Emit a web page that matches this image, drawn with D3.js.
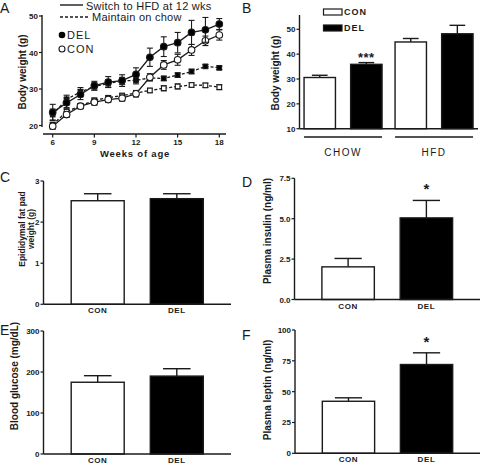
<!DOCTYPE html>
<html><head><meta charset="utf-8">
<script src="https://cdn.jsdelivr.net/npm/d3@7"></script>
<style>
html,body{margin:0;padding:0;background:#fff;}
svg{display:block;font-family:"Liberation Sans",Arial,sans-serif;}
</style></head>
<body>
<svg id="c" width="480" height="464"></svg>
<script>
// ---------- DATA ----------
const weeks = [6,7,8,9,10,11,12,13,14,15,16,17,18];
const hfdDel    = [23.6,26.2,28.5,30.9,31.9,32.3,34.0,38.7,41.6,42.7,45.5,46.2,47.8];
const hfdDelErr = [2.2,1.3,1.4,1.2,1.5,1.6,1.8,2.5,2.7,2.8,3.3,3.4,1.5];
const hfdCon    = [19.8,23.0,25.3,26.4,27.1,27.5,28.7,33.2,36.6,38.0,40.7,43.2,44.8];
const hfdConErr = [0.8,0.8,0.7,0.8,0.8,0.8,0.9,1.0,1.2,1.5,1.5,1.3,1.4];
const chowDel    = [23.0,27.2,29.2,30.7,31.5,32.2,32.4,33.0,32.9,33.8,34.8,36.2,35.8];
const chowDelErr = [1.5,1.1,1.2,1.0,1.0,1.0,1.0,0.7,0.6,0.6,0.6,0.5,0.5];
const chowCon    = [20.2,23.8,25.4,26.9,27.6,28.2,28.9,29.6,30.2,30.7,31.1,31.0,30.5];
const chowConErr = [0.7,0.8,0.6,0.6,0.6,0.6,0.6,0.6,0.7,0.7,0.6,0.6,0.7];
const aYTicks = [20,30,40,50];
const aXTicks = [6,9,12,15,18];

const bGroups = ["CHOW","HFD"];
const bSeries = ["CON","DEL"];
const bValues = {CHOW:[30.6,35.9], HFD:[44.9,48.2]};
const bErrors = {CHOW:[0.9,0.7], HFD:[1.4,3.4]};
const bYTicks = [10,20,30,40,50];

const cats = ["CON","DEL"];
const fatValues = [2.52,2.57], fatErr = [0.17,0.12], fatTicks = [0,1,2,3];
const insValues = [2.02,5.05], insErr = [0.52,1.08], insTicks = [0,2.5,5,7.5];
const gluValues = [175,190], gluErr = [16,18], gluTicks = [0,100,200,300];
const lepValues = [42.2,72.0], lepErr = [2.8,9.5], lepTicks = [0,25,50,75,100];

// ---------- HELPERS ----------
const svg = d3.select("#c");
const INK = "#1a1a1a";
function letter(t,x,y){
  svg.append("text").attr("x",x).attr("y",y).attr("font-size",14).attr("fill",INK).text(t);
}
function ylabel(lines,x,y,size){
  const t = svg.append("text").attr("transform",`translate(${x},${y}) rotate(-90)`)
    .attr("text-anchor","middle").attr("font-size",size||10).attr("font-weight","bold").attr("fill",INK);
  lines.forEach((l,i)=>t.append("tspan").attr("x",0).attr("dy",i?size*1.05:0).text(l));
}
function yAxis(g, y, ticks, fmt, x, yTop, yBot){
  g.append("line").attr("x1",x).attr("x2",x).attr("y1",yTop).attr("y2",yBot)
    .attr("stroke",INK).attr("stroke-width",1.4);
  ticks.forEach(v=>{
    g.append("line").attr("x1",x-3).attr("x2",x).attr("y1",y(v)).attr("y2",y(v))
      .attr("stroke",INK).attr("stroke-width",1.2);
    g.append("text").attr("x",x-4).attr("y",y(v)+3).attr("text-anchor","end")
      .attr("font-size",8).attr("font-weight","bold").attr("fill",INK).text(fmt(v));
  });
}

// bar panel C-F
function barPanel(o){
  const g = svg.append("g");
  const y = d3.scaleLinear().domain([0,o.max]).range([o.yBot,o.yTop]);
  const x = d3.scaleBand().domain(cats).range([o.axisX,o.xEnd]).paddingInner(0.33).paddingOuter(0.35);
  cats.forEach((c,i)=>{
    const bw = x.bandwidth(), cx = x(c)+bw/2;
    const top = y(o.values[i]), et = y(o.values[i]+o.err[i]);
    g.append("line").attr("x1",cx).attr("x2",cx).attr("y1",top).attr("y2",et).attr("stroke",INK).attr("stroke-width",1.4);
    g.append("line").attr("x1",cx-bw*0.26).attr("x2",cx+bw*0.26).attr("y1",et).attr("y2",et).attr("stroke",INK).attr("stroke-width",1.4);
    g.append("rect").attr("x",x(c)).attr("y",top).attr("width",bw).attr("height",o.yBot-top)
      .attr("fill",i?"#000":"#fff").attr("stroke",INK).attr("stroke-width",1.4);
    g.append("text").attr("x",cx).attr("y",o.yBot+9).attr("text-anchor","middle")
      .attr("font-size",8).attr("font-weight","bold").attr("letter-spacing",0.6).attr("fill",INK).text(c);
    if(o.star && i===1){
      g.append("text").attr("x",cx).attr("y",et-6).attr("text-anchor","middle")
        .attr("font-size",15).attr("font-weight","bold").attr("fill",INK).text("*");
    }
  });
  yAxis(g,y,o.ticks,o.fmt,o.axisX,o.yTop,o.yBot);
  g.append("line").attr("x1",o.axisX).attr("x2",o.xEnd).attr("y1",o.yBot).attr("y2",o.yBot)
    .attr("stroke",INK).attr("stroke-width",1.4);
}

// ---------- PANEL A ----------
{
  const g = svg.append("g");
  const x = d3.scaleLinear().domain([6,18]).range([52.7,219.3]);
  const y = d3.scaleLinear().domain([20,50]).range([125.5,16]);
  const series = [
    {v:chowCon,e:chowConErr,dash:"3,2",fill:"#fff",shape:"sq"},
    {v:chowDel,e:chowDelErr,dash:"3,2",fill:"#000",shape:"sq"},
    {v:hfdCon,e:hfdConErr,dash:null,fill:"#fff",shape:"ci"},
    {v:hfdDel,e:hfdDelErr,dash:null,fill:"#000",shape:"ci"}
  ];
  const line = d3.line().x((d,i)=>x(weeks[i])).y(d=>y(d));
  series.forEach(s=>{
    g.append("path").attr("d",line(s.v)).attr("fill","none").attr("stroke",INK)
      .attr("stroke-width",1.3).attr("stroke-dasharray",s.dash);
    s.v.forEach((d,i)=>{
      const cx = x(weeks[i]), y1 = y(d+s.e[i]), y2 = y(d-s.e[i]);
      g.append("line").attr("x1",cx).attr("x2",cx).attr("y1",y1).attr("y2",y2).attr("stroke",INK).attr("stroke-width",1.1);
      [y1,y2].forEach(yy=>g.append("line").attr("x1",cx-3).attr("x2",cx+3).attr("y1",yy).attr("y2",yy).attr("stroke",INK).attr("stroke-width",1.1));
    });
    s.v.forEach((d,i)=>{
      const cx = x(weeks[i]), cy = y(d);
      if(s.shape==="ci") g.append("circle").attr("cx",cx).attr("cy",cy).attr("r",3.3).attr("fill",s.fill).attr("stroke",INK).attr("stroke-width",1.1);
      else g.append("rect").attr("x",cx-2.3).attr("y",cy-2.3).attr("width",4.6).attr("height",4.6).attr("fill",s.fill).attr("stroke",INK).attr("stroke-width",1.1);
    });
  });
  yAxis(g,y,aYTicks,d3.format("d"),42,15,127);
  g.append("line").attr("x1",43).attr("x2",226).attr("y1",134).attr("y2",134).attr("stroke",INK).attr("stroke-width",1.4);
  aXTicks.forEach(v=>{
    g.append("line").attr("x1",x(v)).attr("x2",x(v)).attr("y1",134).attr("y2",137.5).attr("stroke",INK).attr("stroke-width",1.2);
    g.append("text").attr("x",x(v)).attr("y",145).attr("text-anchor","middle").attr("font-size",8)
      .attr("font-weight","bold").attr("fill",INK).text(v);
  });
  g.append("text").attr("x",135).attr("y",157).attr("text-anchor","middle").attr("font-size",9.5)
    .attr("font-weight","bold").attr("letter-spacing",0.8).attr("fill",INK).text("Weeks of age");
  ylabel(["Body weight (g)"],26,72,10);
  g.append("line").attr("x1",60).attr("x2",83).attr("y1",5).attr("y2",5).attr("stroke",INK).attr("stroke-width",1.4);
  g.append("text").attr("x",86).attr("y",10).attr("font-size",11).attr("letter-spacing",0.25).attr("fill",INK).text("Switch to HFD at 12 wks");
  g.append("line").attr("x1",60).attr("x2",88).attr("y1",17).attr("y2",17).attr("stroke",INK).attr("stroke-width",1.4).attr("stroke-dasharray","3,2");
  g.append("text").attr("x",92).attr("y",21).attr("font-size",11).attr("letter-spacing",0.25).attr("fill",INK).text("Maintain on chow");
  g.append("circle").attr("cx",62).attr("cy",35).attr("r",3.3).attr("fill","#000");
  g.append("text").attr("x",67).attr("y",39).attr("font-size",11).attr("letter-spacing",1).attr("fill",INK).text("DEL");
  g.append("circle").attr("cx",62).attr("cy",49).attr("r",3).attr("fill","#fff").attr("stroke",INK).attr("stroke-width",1.1);
  g.append("text").attr("x",67).attr("y",53).attr("font-size",11).attr("letter-spacing",1).attr("fill",INK).text("CON");
}
letter("A",0,13);

// ---------- PANEL B ----------
{
  const g = svg.append("g");
  const axisX = 299.5, yBot = 128.7;
  const y = d3.scaleLinear().domain([10,50]).range([yBot,29.3]);
  const xg = d3.scaleBand().domain(bGroups).range([axisX,477.6]).paddingInner(0.143).paddingOuter(0.05);
  const xs = d3.scaleBand().domain(bSeries).range([0,xg.bandwidth()]).paddingInner(0.326).paddingOuter(0);
  bGroups.forEach(gr=>{
    bSeries.forEach((s,i)=>{
      const bx = xg(gr)+xs(s), bw = xs.bandwidth(), cx = bx+bw/2;
      const v = bValues[gr][i], e = bErrors[gr][i];
      g.append("line").attr("x1",cx).attr("x2",cx).attr("y1",y(v)).attr("y2",y(v+e)).attr("stroke",INK).attr("stroke-width",1.4);
      g.append("line").attr("x1",cx-bw*0.25).attr("x2",cx+bw*0.25).attr("y1",y(v+e)).attr("y2",y(v+e)).attr("stroke",INK).attr("stroke-width",1.4);
      g.append("rect").attr("x",bx).attr("y",y(v)).attr("width",bw).attr("height",yBot-y(v))
        .attr("fill",i?"#000":"#fff").attr("stroke",INK).attr("stroke-width",1.4);
      if(gr==="CHOW" && s==="DEL")
        g.append("text").attr("x",cx).attr("y",y(v+e)-1).attr("text-anchor","middle").attr("font-size",13)
          .attr("font-weight","bold").attr("letter-spacing",0.5).attr("fill",INK).text("***");
    });
    g.append("line").attr("x1",xg(gr)).attr("x2",xg(gr)+xg.bandwidth()).attr("y1",137).attr("y2",137).attr("stroke",INK).attr("stroke-width",1.3);
    g.append("text").attr("x",xg(gr)+xg.bandwidth()/2).attr("y",156).attr("text-anchor","middle")
      .attr("font-size",10).attr("letter-spacing",1.5).attr("fill",INK).text(gr);
  });
  yAxis(g,y,bYTicks,d3.format("d"),axisX,15,yBot);
  g.append("line").attr("x1",axisX).attr("x2",478).attr("y1",yBot).attr("y2",yBot).attr("stroke",INK).attr("stroke-width",1.4);
  ylabel(["Body weight (g)"],279,73,10);
  bSeries.forEach((s,i)=>{
    g.append("rect").attr("x",323.5).attr("y",9+i*16).attr("width",18.5).attr("height",6)
      .attr("fill",i?"#000":"#fff").attr("stroke",INK).attr("stroke-width",1.2);
    g.append("text").attr("x",344).attr("y",15+i*16).attr("font-size",9).attr("font-weight","bold")
      .attr("letter-spacing",1).attr("fill",INK).text(s);
  });
}
letter("B",242,13);

// ---------- PANELS C-F ----------
barPanel({axisX:43.5,xEnd:231,yTop:181,yBot:304.3,max:3,ticks:fatTicks,fmt:d3.format("d"),values:fatValues,err:fatErr});
ylabel(["Epididymal fat pad","weight (g)"],25,229,8.5);
letter("C",0,182);

barPanel({axisX:294.5,xEnd:480,yTop:178.3,yBot:299.5,max:7.5,ticks:insTicks,fmt:d3.format(".1f"),values:insValues,err:insErr,star:true});
ylabel(["Plasma insulin (ng/ml)"],271,231,10);
letter("D",242,187);

barPanel({axisX:43.5,xEnd:231,yTop:331,yBot:454,max:300,ticks:gluTicks,fmt:d3.format("d"),values:gluValues,err:gluErr});
ylabel(["Blood glucose (mg/dL)"],18,376,10);
letter("E",0,335);

barPanel({axisX:295,xEnd:480,yTop:330,yBot:453.3,max:100,ticks:lepTicks,fmt:d3.format("d"),values:lepValues,err:lepErr,star:true});
ylabel(["Plasma leptin (ng/ml)"],271,390,10);
letter("F",242,340);
</script>
</body></html>
